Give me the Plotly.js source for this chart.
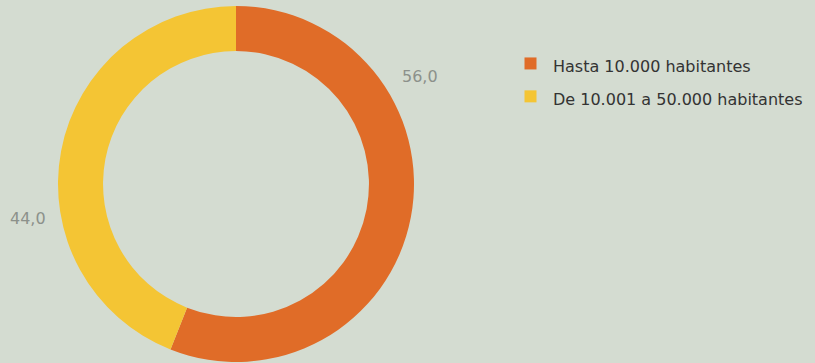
<!DOCTYPE html>
<html><head><meta charset="utf-8">
<script src="https://cdn.plot.ly/plotly-3.0.1.min.js"></script>
<style>html,body{margin:0;padding:0;background:#d4dcd1;}</style>
</head><body>
<div id="chart" style="width:815px;height:363px;"></div>
<script>
const categories = ["Hasta 10.000 habitantes", "De 10.001 a 50.000 habitantes"];
const values = [56.0, 44.0];
const colors = ["#e06c28", "#f4c534"];
const labelPos = [[420/815, 1-76/363], [28/815, 1-218/363]];

const fmt = v => v.toFixed(1).replace('.', ',');

const trace = {
  type: 'pie',
  labels: categories.map(c => '<span style="font-size:16px">' + c + '</span>'),
  values: values,
  sort: false,
  direction: 'clockwise',
  rotation: 0,
  hole: 0.747,
  marker: {colors: colors, line: {width: 0}},
  textinfo: 'none',
  hoverinfo: 'none',
  domain: {x: [58/815, 414/815], y: [1/363, 357/363]}
};

const annotations = values.map((v, i) => ({
  text: fmt(v), xref: 'paper', yref: 'paper',
  x: labelPos[i][0], y: labelPos[i][1], showarrow: false,
  xanchor: 'center', yanchor: 'middle',
  font: {family: '"DejaVu Sans", sans-serif', size: 16, color: '#8c918b'}
}));

const layout = {
  width: 815, height: 363,
  margin: {l: 0, r: 0, t: 0, b: 0},
  paper_bgcolor: '#d4dcd1', plot_bgcolor: '#d4dcd1',
  showlegend: true,
  legend: {x: 508/815, y: 1-42/363, xanchor: 'left', yanchor: 'top',
    itemwidth: 35,
    font: {family: '"DejaVu Sans", sans-serif', size: 23, color: '#333333'},
    bgcolor: 'rgba(0,0,0,0)'},
  annotations: annotations
};
Plotly.newPlot('chart', [trace], layout, {displayModeBar: false, staticPlot: true});
</script>
</body></html>
